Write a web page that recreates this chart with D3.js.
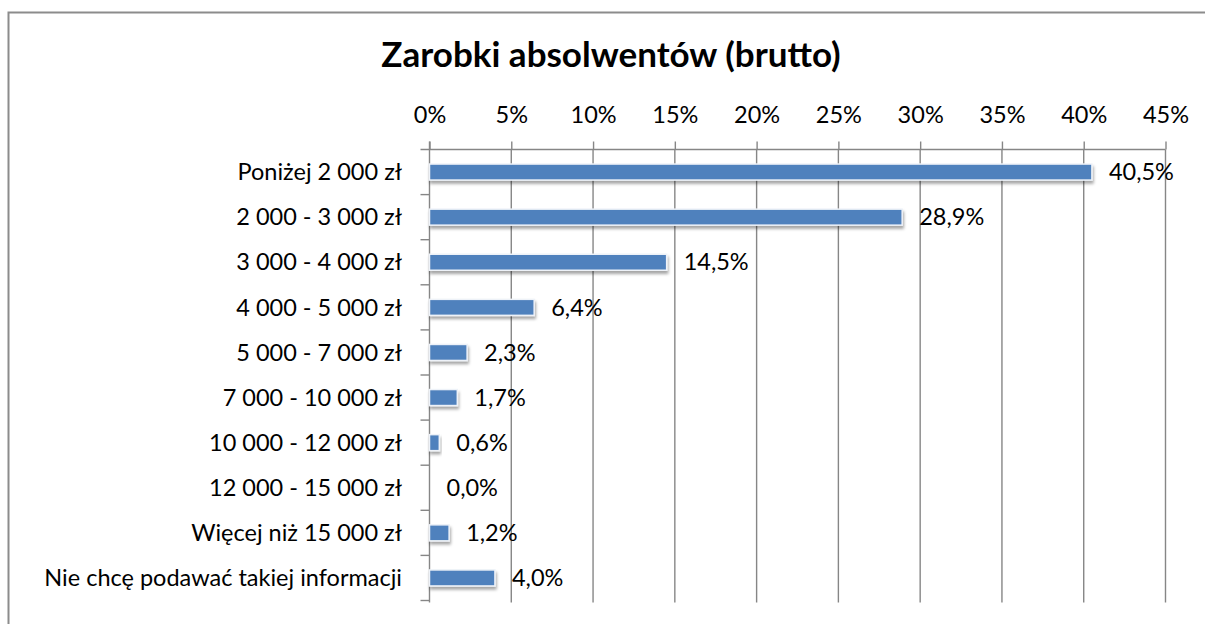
<!DOCTYPE html>
<html>
<head>
<meta charset="utf-8">
<script src="https://cdn.jsdelivr.net/npm/d3@7"></script>
<style>
  html, body { margin: 0; padding: 0; background: #fff; overflow: hidden; }
  svg { display: block; }
  text { font-family: Lato, "Open Sans", sans-serif; fill: #000; }
</style>
</head>
<body>
<svg id="chart" width="1205" height="624"></svg>
<script>
// Earnings brackets (gross) and the share of graduates in each
const categories = [
  "Poniżej 2 000 zł",
  "2 000 - 3 000 zł",
  "3 000 - 4 000 zł",
  "4 000 - 5 000 zł",
  "5 000 - 7 000 zł",
  "7 000 - 10 000 zł",
  "10 000 - 12 000 zł",
  "12 000 - 15 000 zł",
  "Więcej niż 15 000 zł",
  "Nie chcę podawać takiej informacji"
];
const shares = [40.5, 28.9, 14.5, 6.4, 2.3, 1.7, 0.6, 0.0, 1.2, 4.0];
const tickValues = [0, 5, 10, 15, 20, 25, 30, 35, 40, 45];
const title = "Zarobki absolwentów (brutto)";

const svg = d3.select("#chart");
const plot = { left: 429.5, right: 1165.5, top: 149.5, bottom: 600.5 };
const gridColor = "#868686";
const labelSize = "23.5px";

// outer chart frame (right and bottom edges fall outside the page)
svg.append("rect")
  .attr("x", 8.5).attr("y", 12.5)
  .attr("width", 1300).attr("height", 700)
  .attr("fill", "none").attr("stroke", "#8c8c8c").attr("stroke-width", 2);

svg.append("text")
  .attr("x", 611).attr("y", 67)
  .attr("text-anchor", "middle")
  .style("font-size", "35px").style("font-weight", "bold")
  .text(title);

const x = d3.scaleLinear().domain([0, 45]).range([plot.left, plot.right]);
const y = d3.scaleBand().domain(categories).range([plot.top, plot.bottom]);

const defs = svg.append("defs");
const shadow = defs.append("filter").attr("id", "barShadow")
  .attr("x", "-20%").attr("y", "-40%").attr("width", "140%").attr("height", "200%");
shadow.append("feDropShadow")
  .attr("dx", 1).attr("dy", 3).attr("stdDeviation", 1.6)
  .attr("flood-color", "#000").attr("flood-opacity", 0.35);

// vertical gridlines
svg.append("g").selectAll("line").data(tickValues.slice(1)).join("line")
  .attr("x1", d => x(d)).attr("x2", d => x(d))
  .attr("y1", plot.top).attr("y2", plot.bottom + 2)
  .attr("stroke", gridColor).attr("stroke-width", 1.4);

// top value axis
const xAxis = svg.append("g")
  .attr("transform", `translate(0,${plot.top})`)
  .call(d3.axisTop(x).tickValues(tickValues).tickSize(8).tickPadding(19)
    .tickFormat(d => d + "%"));
xAxis.select(".domain").remove();
xAxis.append("line")
  .attr("x1", plot.left - 9).attr("x2", plot.right)
  .attr("stroke", gridColor).attr("stroke-width", 1.4);
xAxis.selectAll(".tick line").attr("stroke", gridColor).attr("stroke-width", 1.4);
xAxis.selectAll(".tick text")
  .style("font-size", labelSize).style("font-family", "Lato, sans-serif").attr("fill", "#000");

// category axis on the left, ticks at band boundaries
const yAxisG = svg.append("g");
yAxisG.append("line")
  .attr("x1", plot.left).attr("x2", plot.left)
  .attr("y1", plot.top - 8).attr("y2", plot.bottom + 2)
  .attr("stroke", gridColor).attr("stroke-width", 1.4);
const boundaries = categories.map(c => y(c)).concat([plot.bottom]);
yAxisG.selectAll("line.tick").data(boundaries.slice(1)).join("line")
  .attr("class", "tick")
  .attr("x1", plot.left - 9).attr("x2", plot.left)
  .attr("y1", d => d).attr("y2", d => d)
  .attr("stroke", gridColor).attr("stroke-width", 1.4);
yAxisG.selectAll("text").data(categories).join("text")
  .attr("x", 402).attr("y", d => y(d) + y.bandwidth() / 2)
  .attr("dy", "0.35em").attr("text-anchor", "end")
  .style("font-size", labelSize)
  .text(d => d);

// bars
const barH = 16;
svg.append("g").selectAll("rect").data(shares).join("rect")
  .attr("x", x(0))
  .attr("y", (d, i) => y(categories[i]) + y.bandwidth() / 2 - barH / 2)
  .attr("width", d => x(d) - x(0))
  .attr("height", barH)
  .attr("fill", "#4f81bd")
  .attr("stroke", d => d > 0 ? "#eef2f8" : "none")
  .attr("stroke-width", 1.5)
  .attr("filter", "url(#barShadow)");

// value labels
const fmt = d => d.toFixed(1).replace(".", ",") + "%";
svg.append("g").selectAll("text").data(shares).join("text")
  .attr("x", d => x(d) + 17)
  .attr("y", (d, i) => y(categories[i]) + y.bandwidth() / 2)
  .attr("dy", "0.35em")
  .style("font-size", labelSize)
  .text(fmt);
</script>
</body>
</html>
